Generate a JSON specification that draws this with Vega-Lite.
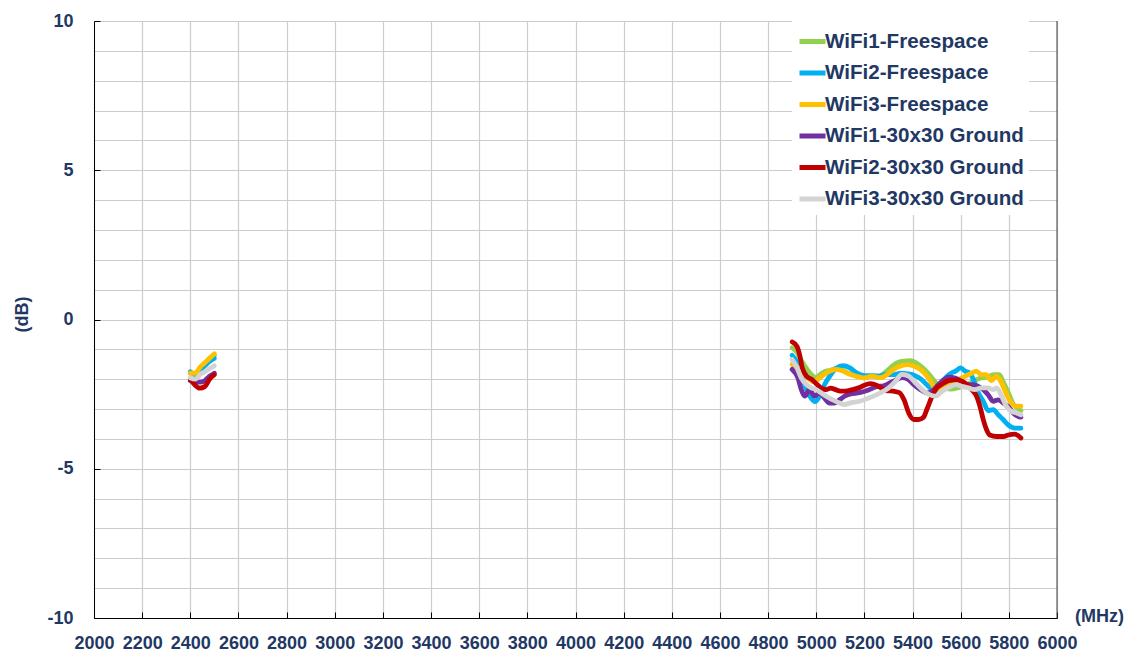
{
"$schema": "https://vega.github.io/schema/vega-lite/v6.json",
"width": 963, "height": 597,
"autosize": {"type": "none"},
"padding": {"left": 94, "top": 21, "right": 75, "bottom": 39},
"background": "#ffffff",
"config": {"view": {"stroke": null}, "font": "Liberation Sans"},
"layer": [
{
"data": {"values": [
{"series":"WiFi1-Freespace","band":"2G","MHz":2400,"dB":-1.8},{"series":"WiFi1-Freespace","band":"2G","MHz":2420,"dB":-1.85},{"series":"WiFi1-Freespace","band":"2G","MHz":2440,"dB":-1.65},{"series":"WiFi1-Freespace","band":"2G","MHz":2460,"dB":-1.5},{"series":"WiFi1-Freespace","band":"2G","MHz":2480,"dB":-1.3},{"series":"WiFi1-Freespace","band":"2G","MHz":2500,"dB":-1.2},
{"series":"WiFi1-Freespace","band":"5G","MHz":4900,"dB":-0.95},{"series":"WiFi1-Freespace","band":"5G","MHz":4920,"dB":-1.1},{"series":"WiFi1-Freespace","band":"5G","MHz":4940,"dB":-1.4},{"series":"WiFi1-Freespace","band":"5G","MHz":4960,"dB":-1.65},{"series":"WiFi1-Freespace","band":"5G","MHz":4980,"dB":-1.85},{"series":"WiFi1-Freespace","band":"5G","MHz":5000,"dB":-1.95},{"series":"WiFi1-Freespace","band":"5G","MHz":5015,"dB":-1.85},{"series":"WiFi1-Freespace","band":"5G","MHz":5035,"dB":-1.75},{"series":"WiFi1-Freespace","band":"5G","MHz":5060,"dB":-1.7},{"series":"WiFi1-Freespace","band":"5G","MHz":5085,"dB":-1.65},{"series":"WiFi1-Freespace","band":"5G","MHz":5110,"dB":-1.72},{"series":"WiFi1-Freespace","band":"5G","MHz":5140,"dB":-1.82},{"series":"WiFi1-Freespace","band":"5G","MHz":5170,"dB":-1.9},{"series":"WiFi1-Freespace","band":"5G","MHz":5200,"dB":-1.93},{"series":"WiFi1-Freespace","band":"5G","MHz":5230,"dB":-1.9},{"series":"WiFi1-Freespace","band":"5G","MHz":5260,"dB":-1.9},{"series":"WiFi1-Freespace","band":"5G","MHz":5290,"dB":-1.75},{"series":"WiFi1-Freespace","band":"5G","MHz":5310,"dB":-1.6},{"series":"WiFi1-Freespace","band":"5G","MHz":5335,"dB":-1.45},{"series":"WiFi1-Freespace","band":"5G","MHz":5360,"dB":-1.4},{"series":"WiFi1-Freespace","band":"5G","MHz":5390,"dB":-1.38},{"series":"WiFi1-Freespace","band":"5G","MHz":5415,"dB":-1.45},{"series":"WiFi1-Freespace","band":"5G","MHz":5440,"dB":-1.6},{"series":"WiFi1-Freespace","band":"5G","MHz":5465,"dB":-1.8},{"series":"WiFi1-Freespace","band":"5G","MHz":5485,"dB":-2.0},{"series":"WiFi1-Freespace","band":"5G","MHz":5500,"dB":-2.15},{"series":"WiFi1-Freespace","band":"5G","MHz":5525,"dB":-2.28},{"series":"WiFi1-Freespace","band":"5G","MHz":5560,"dB":-2.33},{"series":"WiFi1-Freespace","band":"5G","MHz":5590,"dB":-2.28},{"series":"WiFi1-Freespace","band":"5G","MHz":5620,"dB":-2.2},{"series":"WiFi1-Freespace","band":"5G","MHz":5650,"dB":-2.08},{"series":"WiFi1-Freespace","band":"5G","MHz":5680,"dB":-1.97},{"series":"WiFi1-Freespace","band":"5G","MHz":5710,"dB":-1.92},{"series":"WiFi1-Freespace","band":"5G","MHz":5740,"dB":-1.85},{"series":"WiFi1-Freespace","band":"5G","MHz":5760,"dB":-1.85},{"series":"WiFi1-Freespace","band":"5G","MHz":5780,"dB":-2.15},{"series":"WiFi1-Freespace","band":"5G","MHz":5800,"dB":-2.5},{"series":"WiFi1-Freespace","band":"5G","MHz":5820,"dB":-2.85},{"series":"WiFi1-Freespace","band":"5G","MHz":5840,"dB":-3.0},{"series":"WiFi1-Freespace","band":"5G","MHz":5850,"dB":-3.05},
{"series":"WiFi2-Freespace","band":"2G","MHz":2400,"dB":-1.75},{"series":"WiFi2-Freespace","band":"2G","MHz":2420,"dB":-1.85},{"series":"WiFi2-Freespace","band":"2G","MHz":2440,"dB":-1.7},{"series":"WiFi2-Freespace","band":"2G","MHz":2460,"dB":-1.55},{"series":"WiFi2-Freespace","band":"2G","MHz":2480,"dB":-1.4},{"series":"WiFi2-Freespace","band":"2G","MHz":2500,"dB":-1.3},
{"series":"WiFi2-Freespace","band":"5G","MHz":4900,"dB":-1.2},{"series":"WiFi2-Freespace","band":"5G","MHz":4918,"dB":-1.4},{"series":"WiFi2-Freespace","band":"5G","MHz":4938,"dB":-1.85},{"series":"WiFi2-Freespace","band":"5G","MHz":4952,"dB":-2.2},{"series":"WiFi2-Freespace","band":"5G","MHz":4965,"dB":-2.45},{"series":"WiFi2-Freespace","band":"5G","MHz":4980,"dB":-2.65},{"series":"WiFi2-Freespace","band":"5G","MHz":4995,"dB":-2.75},{"series":"WiFi2-Freespace","band":"5G","MHz":5010,"dB":-2.62},{"series":"WiFi2-Freespace","band":"5G","MHz":5025,"dB":-2.35},{"series":"WiFi2-Freespace","band":"5G","MHz":5040,"dB":-2.1},{"series":"WiFi2-Freespace","band":"5G","MHz":5060,"dB":-1.85},{"series":"WiFi2-Freespace","band":"5G","MHz":5085,"dB":-1.62},{"series":"WiFi2-Freespace","band":"5G","MHz":5110,"dB":-1.55},{"series":"WiFi2-Freespace","band":"5G","MHz":5140,"dB":-1.62},{"series":"WiFi2-Freespace","band":"5G","MHz":5166,"dB":-1.78},{"series":"WiFi2-Freespace","band":"5G","MHz":5200,"dB":-1.88},{"series":"WiFi2-Freespace","band":"5G","MHz":5230,"dB":-1.88},{"series":"WiFi2-Freespace","band":"5G","MHz":5260,"dB":-1.9},{"series":"WiFi2-Freespace","band":"5G","MHz":5285,"dB":-1.85},{"series":"WiFi2-Freespace","band":"5G","MHz":5320,"dB":-1.85},{"series":"WiFi2-Freespace","band":"5G","MHz":5350,"dB":-1.8},{"series":"WiFi2-Freespace","band":"5G","MHz":5380,"dB":-1.82},{"series":"WiFi2-Freespace","band":"5G","MHz":5410,"dB":-1.88},{"series":"WiFi2-Freespace","band":"5G","MHz":5435,"dB":-2.0},{"series":"WiFi2-Freespace","band":"5G","MHz":5455,"dB":-2.15},{"series":"WiFi2-Freespace","band":"5G","MHz":5475,"dB":-2.3},{"series":"WiFi2-Freespace","band":"5G","MHz":5490,"dB":-2.38},{"series":"WiFi2-Freespace","band":"5G","MHz":5510,"dB":-2.25},{"series":"WiFi2-Freespace","band":"5G","MHz":5530,"dB":-2.02},{"series":"WiFi2-Freespace","band":"5G","MHz":5550,"dB":-1.85},{"series":"WiFi2-Freespace","band":"5G","MHz":5580,"dB":-1.72},{"series":"WiFi2-Freespace","band":"5G","MHz":5600,"dB":-1.62},{"series":"WiFi2-Freespace","band":"5G","MHz":5618,"dB":-1.73},{"series":"WiFi2-Freespace","band":"5G","MHz":5638,"dB":-1.8},{"series":"WiFi2-Freespace","band":"5G","MHz":5652,"dB":-2.0},{"series":"WiFi2-Freespace","band":"5G","MHz":5673,"dB":-2.45},{"series":"WiFi2-Freespace","band":"5G","MHz":5694,"dB":-2.74},{"series":"WiFi2-Freespace","band":"5G","MHz":5714,"dB":-3.05},{"series":"WiFi2-Freespace","band":"5G","MHz":5735,"dB":-3.02},{"series":"WiFi2-Freespace","band":"5G","MHz":5756,"dB":-3.19},{"series":"WiFi2-Freespace","band":"5G","MHz":5777,"dB":-3.36},{"series":"WiFi2-Freespace","band":"5G","MHz":5797,"dB":-3.53},{"series":"WiFi2-Freespace","band":"5G","MHz":5825,"dB":-3.64},{"series":"WiFi2-Freespace","band":"5G","MHz":5850,"dB":-3.64},
{"series":"WiFi3-Freespace","band":"2G","MHz":2400,"dB":-1.8},{"series":"WiFi3-Freespace","band":"2G","MHz":2420,"dB":-1.8},{"series":"WiFi3-Freespace","band":"2G","MHz":2440,"dB":-1.6},{"series":"WiFi3-Freespace","band":"2G","MHz":2460,"dB":-1.45},{"series":"WiFi3-Freespace","band":"2G","MHz":2480,"dB":-1.3},{"series":"WiFi3-Freespace","band":"2G","MHz":2500,"dB":-1.15},
{"series":"WiFi3-Freespace","band":"5G","MHz":4900,"dB":-1.5},{"series":"WiFi3-Freespace","band":"5G","MHz":4925,"dB":-1.62},{"series":"WiFi3-Freespace","band":"5G","MHz":4945,"dB":-1.78},{"series":"WiFi3-Freespace","band":"5G","MHz":4965,"dB":-1.95},{"series":"WiFi3-Freespace","band":"5G","MHz":4985,"dB":-2.08},{"series":"WiFi3-Freespace","band":"5G","MHz":5000,"dB":-2.05},{"series":"WiFi3-Freespace","band":"5G","MHz":5015,"dB":-1.95},{"series":"WiFi3-Freespace","band":"5G","MHz":5040,"dB":-1.8},{"series":"WiFi3-Freespace","band":"5G","MHz":5060,"dB":-1.72},{"series":"WiFi3-Freespace","band":"5G","MHz":5085,"dB":-1.67},{"series":"WiFi3-Freespace","band":"5G","MHz":5110,"dB":-1.72},{"series":"WiFi3-Freespace","band":"5G","MHz":5135,"dB":-1.82},{"series":"WiFi3-Freespace","band":"5G","MHz":5165,"dB":-1.9},{"series":"WiFi3-Freespace","band":"5G","MHz":5200,"dB":-1.96},{"series":"WiFi3-Freespace","band":"5G","MHz":5230,"dB":-1.9},{"series":"WiFi3-Freespace","band":"5G","MHz":5265,"dB":-1.95},{"series":"WiFi3-Freespace","band":"5G","MHz":5295,"dB":-1.84},{"series":"WiFi3-Freespace","band":"5G","MHz":5320,"dB":-1.68},{"series":"WiFi3-Freespace","band":"5G","MHz":5350,"dB":-1.56},{"series":"WiFi3-Freespace","band":"5G","MHz":5378,"dB":-1.51},{"series":"WiFi3-Freespace","band":"5G","MHz":5405,"dB":-1.56},{"series":"WiFi3-Freespace","band":"5G","MHz":5433,"dB":-1.68},{"series":"WiFi3-Freespace","band":"5G","MHz":5455,"dB":-1.85},{"series":"WiFi3-Freespace","band":"5G","MHz":5475,"dB":-2.07},{"series":"WiFi3-Freespace","band":"5G","MHz":5495,"dB":-2.33},{"series":"WiFi3-Freespace","band":"5G","MHz":5515,"dB":-2.3},{"series":"WiFi3-Freespace","band":"5G","MHz":5537,"dB":-2.18},{"series":"WiFi3-Freespace","band":"5G","MHz":5565,"dB":-2.07},{"series":"WiFi3-Freespace","band":"5G","MHz":5590,"dB":-2.02},{"series":"WiFi3-Freespace","band":"5G","MHz":5620,"dB":-1.9},{"series":"WiFi3-Freespace","band":"5G","MHz":5645,"dB":-1.8},{"series":"WiFi3-Freespace","band":"5G","MHz":5665,"dB":-1.73},{"series":"WiFi3-Freespace","band":"5G","MHz":5685,"dB":-1.85},{"series":"WiFi3-Freespace","band":"5G","MHz":5705,"dB":-1.85},{"series":"WiFi3-Freespace","band":"5G","MHz":5728,"dB":-2.05},{"series":"WiFi3-Freespace","band":"5G","MHz":5748,"dB":-1.9},{"series":"WiFi3-Freespace","band":"5G","MHz":5768,"dB":-2.1},{"series":"WiFi3-Freespace","band":"5G","MHz":5790,"dB":-2.5},{"series":"WiFi3-Freespace","band":"5G","MHz":5810,"dB":-2.8},{"series":"WiFi3-Freespace","band":"5G","MHz":5830,"dB":-2.9},{"series":"WiFi3-Freespace","band":"5G","MHz":5850,"dB":-2.9},
{"series":"WiFi1-30x30 Ground","band":"2G","MHz":2400,"dB":-2.05},{"series":"WiFi1-30x30 Ground","band":"2G","MHz":2420,"dB":-2.1},{"series":"WiFi1-30x30 Ground","band":"2G","MHz":2440,"dB":-2.1},{"series":"WiFi1-30x30 Ground","band":"2G","MHz":2460,"dB":-2.05},{"series":"WiFi1-30x30 Ground","band":"2G","MHz":2480,"dB":-1.9},{"series":"WiFi1-30x30 Ground","band":"2G","MHz":2500,"dB":-1.8},
{"series":"WiFi1-30x30 Ground","band":"5G","MHz":4900,"dB":-1.67},{"series":"WiFi1-30x30 Ground","band":"5G","MHz":4924,"dB":-1.96},{"series":"WiFi1-30x30 Ground","band":"5G","MHz":4938,"dB":-2.35},{"series":"WiFi1-30x30 Ground","band":"5G","MHz":4952,"dB":-2.57},{"series":"WiFi1-30x30 Ground","band":"5G","MHz":4972,"dB":-2.35},{"series":"WiFi1-30x30 Ground","band":"5G","MHz":4993,"dB":-2.57},{"series":"WiFi1-30x30 Ground","band":"5G","MHz":5014,"dB":-2.46},{"series":"WiFi1-30x30 Ground","band":"5G","MHz":5034,"dB":-2.63},{"series":"WiFi1-30x30 Ground","band":"5G","MHz":5055,"dB":-2.8},{"series":"WiFi1-30x30 Ground","band":"5G","MHz":5076,"dB":-2.8},{"series":"WiFi1-30x30 Ground","band":"5G","MHz":5097,"dB":-2.69},{"series":"WiFi1-30x30 Ground","band":"5G","MHz":5117,"dB":-2.57},{"series":"WiFi1-30x30 Ground","band":"5G","MHz":5140,"dB":-2.5},{"series":"WiFi1-30x30 Ground","band":"5G","MHz":5180,"dB":-2.45},{"series":"WiFi1-30x30 Ground","band":"5G","MHz":5220,"dB":-2.35},{"series":"WiFi1-30x30 Ground","band":"5G","MHz":5250,"dB":-2.25},{"series":"WiFi1-30x30 Ground","band":"5G","MHz":5280,"dB":-2.22},{"series":"WiFi1-30x30 Ground","band":"5G","MHz":5300,"dB":-2.15},{"series":"WiFi1-30x30 Ground","band":"5G","MHz":5325,"dB":-2.05},{"series":"WiFi1-30x30 Ground","band":"5G","MHz":5355,"dB":-1.95},{"series":"WiFi1-30x30 Ground","band":"5G","MHz":5380,"dB":-2.0},{"series":"WiFi1-30x30 Ground","band":"5G","MHz":5405,"dB":-2.18},{"series":"WiFi1-30x30 Ground","band":"5G","MHz":5433,"dB":-2.35},{"series":"WiFi1-30x30 Ground","band":"5G","MHz":5460,"dB":-2.46},{"series":"WiFi1-30x30 Ground","band":"5G","MHz":5480,"dB":-2.4},{"series":"WiFi1-30x30 Ground","band":"5G","MHz":5502,"dB":-2.23},{"series":"WiFi1-30x30 Ground","band":"5G","MHz":5522,"dB":-2.07},{"series":"WiFi1-30x30 Ground","band":"5G","MHz":5550,"dB":-1.93},{"series":"WiFi1-30x30 Ground","band":"5G","MHz":5577,"dB":-1.96},{"series":"WiFi1-30x30 Ground","band":"5G","MHz":5604,"dB":-2.07},{"series":"WiFi1-30x30 Ground","band":"5G","MHz":5632,"dB":-2.18},{"series":"WiFi1-30x30 Ground","band":"5G","MHz":5652,"dB":-2.18},{"series":"WiFi1-30x30 Ground","band":"5G","MHz":5673,"dB":-2.24},{"series":"WiFi1-30x30 Ground","band":"5G","MHz":5694,"dB":-2.35},{"series":"WiFi1-30x30 Ground","band":"5G","MHz":5714,"dB":-2.52},{"series":"WiFi1-30x30 Ground","band":"5G","MHz":5735,"dB":-2.74},{"series":"WiFi1-30x30 Ground","band":"5G","MHz":5756,"dB":-2.69},{"series":"WiFi1-30x30 Ground","band":"5G","MHz":5777,"dB":-2.8},{"series":"WiFi1-30x30 Ground","band":"5G","MHz":5797,"dB":-2.91},{"series":"WiFi1-30x30 Ground","band":"5G","MHz":5818,"dB":-3.13},{"series":"WiFi1-30x30 Ground","band":"5G","MHz":5839,"dB":-3.25},{"series":"WiFi1-30x30 Ground","band":"5G","MHz":5850,"dB":-3.27},
{"series":"WiFi2-30x30 Ground","band":"2G","MHz":2400,"dB":-2.0},{"series":"WiFi2-30x30 Ground","band":"2G","MHz":2420,"dB":-2.2},{"series":"WiFi2-30x30 Ground","band":"2G","MHz":2440,"dB":-2.3},{"series":"WiFi2-30x30 Ground","band":"2G","MHz":2460,"dB":-2.25},{"series":"WiFi2-30x30 Ground","band":"2G","MHz":2480,"dB":-2.0},{"series":"WiFi2-30x30 Ground","band":"2G","MHz":2500,"dB":-1.85},
{"series":"WiFi2-30x30 Ground","band":"5G","MHz":4900,"dB":-0.75},{"series":"WiFi2-30x30 Ground","band":"5G","MHz":4920,"dB":-0.9},{"series":"WiFi2-30x30 Ground","band":"5G","MHz":4930,"dB":-1.15},{"series":"WiFi2-30x30 Ground","band":"5G","MHz":4942,"dB":-1.62},{"series":"WiFi2-30x30 Ground","band":"5G","MHz":4960,"dB":-1.9},{"series":"WiFi2-30x30 Ground","band":"5G","MHz":4980,"dB":-2.0},{"series":"WiFi2-30x30 Ground","band":"5G","MHz":5000,"dB":-2.15},{"series":"WiFi2-30x30 Ground","band":"5G","MHz":5020,"dB":-2.3},{"series":"WiFi2-30x30 Ground","band":"5G","MHz":5040,"dB":-2.35},{"series":"WiFi2-30x30 Ground","band":"5G","MHz":5060,"dB":-2.3},{"series":"WiFi2-30x30 Ground","band":"5G","MHz":5080,"dB":-2.35},{"series":"WiFi2-30x30 Ground","band":"5G","MHz":5100,"dB":-2.4},{"series":"WiFi2-30x30 Ground","band":"5G","MHz":5120,"dB":-2.4},{"series":"WiFi2-30x30 Ground","band":"5G","MHz":5150,"dB":-2.35},{"series":"WiFi2-30x30 Ground","band":"5G","MHz":5180,"dB":-2.28},{"series":"WiFi2-30x30 Ground","band":"5G","MHz":5200,"dB":-2.2},{"series":"WiFi2-30x30 Ground","band":"5G","MHz":5225,"dB":-2.15},{"series":"WiFi2-30x30 Ground","band":"5G","MHz":5250,"dB":-2.2},{"series":"WiFi2-30x30 Ground","band":"5G","MHz":5270,"dB":-2.3},{"series":"WiFi2-30x30 Ground","band":"5G","MHz":5290,"dB":-2.38},{"series":"WiFi2-30x30 Ground","band":"5G","MHz":5320,"dB":-2.4},{"series":"WiFi2-30x30 Ground","band":"5G","MHz":5345,"dB":-2.45},{"series":"WiFi2-30x30 Ground","band":"5G","MHz":5365,"dB":-2.7},{"series":"WiFi2-30x30 Ground","band":"5G","MHz":5385,"dB":-3.15},{"series":"WiFi2-30x30 Ground","band":"5G","MHz":5405,"dB":-3.35},{"series":"WiFi2-30x30 Ground","band":"5G","MHz":5425,"dB":-3.35},{"series":"WiFi2-30x30 Ground","band":"5G","MHz":5445,"dB":-3.28},{"series":"WiFi2-30x30 Ground","band":"5G","MHz":5460,"dB":-3.0},{"series":"WiFi2-30x30 Ground","band":"5G","MHz":5480,"dB":-2.6},{"series":"WiFi2-30x30 Ground","band":"5G","MHz":5500,"dB":-2.3},{"series":"WiFi2-30x30 Ground","band":"5G","MHz":5525,"dB":-2.15},{"series":"WiFi2-30x30 Ground","band":"5G","MHz":5550,"dB":-2.05},{"series":"WiFi2-30x30 Ground","band":"5G","MHz":5580,"dB":-2.02},{"series":"WiFi2-30x30 Ground","band":"5G","MHz":5604,"dB":-2.07},{"series":"WiFi2-30x30 Ground","band":"5G","MHz":5625,"dB":-2.18},{"series":"WiFi2-30x30 Ground","band":"5G","MHz":5646,"dB":-2.35},{"series":"WiFi2-30x30 Ground","band":"5G","MHz":5666,"dB":-2.57},{"series":"WiFi2-30x30 Ground","band":"5G","MHz":5680,"dB":-2.91},{"series":"WiFi2-30x30 Ground","band":"5G","MHz":5694,"dB":-3.36},{"series":"WiFi2-30x30 Ground","band":"5G","MHz":5708,"dB":-3.7},{"series":"WiFi2-30x30 Ground","band":"5G","MHz":5721,"dB":-3.87},{"series":"WiFi2-30x30 Ground","band":"5G","MHz":5749,"dB":-3.92},{"series":"WiFi2-30x30 Ground","band":"5G","MHz":5777,"dB":-3.92},{"series":"WiFi2-30x30 Ground","band":"5G","MHz":5797,"dB":-3.87},{"series":"WiFi2-30x30 Ground","band":"5G","MHz":5825,"dB":-3.84},{"series":"WiFi2-30x30 Ground","band":"5G","MHz":5840,"dB":-3.9},{"series":"WiFi2-30x30 Ground","band":"5G","MHz":5850,"dB":-3.97},
{"series":"WiFi3-30x30 Ground","band":"2G","MHz":2400,"dB":-1.95},{"series":"WiFi3-30x30 Ground","band":"2G","MHz":2420,"dB":-2.0},{"series":"WiFi3-30x30 Ground","band":"2G","MHz":2440,"dB":-1.85},{"series":"WiFi3-30x30 Ground","band":"2G","MHz":2460,"dB":-1.75},{"series":"WiFi3-30x30 Ground","band":"2G","MHz":2480,"dB":-1.65},{"series":"WiFi3-30x30 Ground","band":"2G","MHz":2500,"dB":-1.55},
{"series":"WiFi3-30x30 Ground","band":"5G","MHz":4900,"dB":-1.34},{"series":"WiFi3-30x30 Ground","band":"5G","MHz":4917,"dB":-1.56},{"series":"WiFi3-30x30 Ground","band":"5G","MHz":4938,"dB":-1.96},{"series":"WiFi3-30x30 Ground","band":"5G","MHz":4959,"dB":-2.18},{"series":"WiFi3-30x30 Ground","band":"5G","MHz":4979,"dB":-2.29},{"series":"WiFi3-30x30 Ground","band":"5G","MHz":5000,"dB":-2.35},{"series":"WiFi3-30x30 Ground","band":"5G","MHz":5021,"dB":-2.46},{"series":"WiFi3-30x30 Ground","band":"5G","MHz":5041,"dB":-2.57},{"series":"WiFi3-30x30 Ground","band":"5G","MHz":5069,"dB":-2.69},{"series":"WiFi3-30x30 Ground","band":"5G","MHz":5097,"dB":-2.8},{"series":"WiFi3-30x30 Ground","band":"5G","MHz":5117,"dB":-2.85},{"series":"WiFi3-30x30 Ground","band":"5G","MHz":5138,"dB":-2.8},{"series":"WiFi3-30x30 Ground","band":"5G","MHz":5179,"dB":-2.74},{"series":"WiFi3-30x30 Ground","band":"5G","MHz":5228,"dB":-2.6},{"series":"WiFi3-30x30 Ground","band":"5G","MHz":5266,"dB":-2.46},{"series":"WiFi3-30x30 Ground","band":"5G","MHz":5301,"dB":-2.29},{"series":"WiFi3-30x30 Ground","band":"5G","MHz":5329,"dB":-2.07},{"series":"WiFi3-30x30 Ground","band":"5G","MHz":5356,"dB":-1.84},{"series":"WiFi3-30x30 Ground","band":"5G","MHz":5384,"dB":-1.9},{"series":"WiFi3-30x30 Ground","band":"5G","MHz":5412,"dB":-2.12},{"series":"WiFi3-30x30 Ground","band":"5G","MHz":5440,"dB":-2.35},{"series":"WiFi3-30x30 Ground","band":"5G","MHz":5468,"dB":-2.51},{"series":"WiFi3-30x30 Ground","band":"5G","MHz":5495,"dB":-2.57},{"series":"WiFi3-30x30 Ground","band":"5G","MHz":5523,"dB":-2.4},{"series":"WiFi3-30x30 Ground","band":"5G","MHz":5557,"dB":-2.25},{"series":"WiFi3-30x30 Ground","band":"5G","MHz":5580,"dB":-2.18},{"series":"WiFi3-30x30 Ground","band":"5G","MHz":5604,"dB":-2.24},{"series":"WiFi3-30x30 Ground","band":"5G","MHz":5632,"dB":-2.29},{"series":"WiFi3-30x30 Ground","band":"5G","MHz":5659,"dB":-2.35},{"series":"WiFi3-30x30 Ground","band":"5G","MHz":5687,"dB":-2.29},{"series":"WiFi3-30x30 Ground","band":"5G","MHz":5714,"dB":-2.29},{"series":"WiFi3-30x30 Ground","band":"5G","MHz":5735,"dB":-2.35},{"series":"WiFi3-30x30 Ground","band":"5G","MHz":5749,"dB":-2.29},{"series":"WiFi3-30x30 Ground","band":"5G","MHz":5770,"dB":-2.57},{"series":"WiFi3-30x30 Ground","band":"5G","MHz":5790,"dB":-2.91},{"series":"WiFi3-30x30 Ground","band":"5G","MHz":5811,"dB":-3.08},{"series":"WiFi3-30x30 Ground","band":"5G","MHz":5832,"dB":-3.13},{"series":"WiFi3-30x30 Ground","band":"5G","MHz":5850,"dB":-3.19}
]},
"mark": {"type": "line", "strokeWidth": 4.8, "interpolate": "monotone", "strokeCap": "round", "strokeJoin": "round"},
"encoding": {
"x": {"field": "MHz", "type": "quantitative", "scale": {"domain": [2000, 6000], "nice": false, "zero": false},
 "axis": {"values": [2000,2200,2400,2600,2800,3000,3200,3400,3600,3800,4000,4200,4400,4600,4800,5000,5200,5400,5600,5800,6000],
  "format": "d", "grid": true, "gridColor": "#cccccc", "gridWidth": 1.2, "domainColor": "#000000", "domainWidth": 1,
  "tickColor": "#000000", "tickSize": -6, "tickWidth": 1, "labelPadding": 22, "labelFont": "Liberation Sans", "labelFontSize": 18, "labelFontWeight": "bold",
  "labelColor": "#1f3864", "labelFlush": false, "labelOverlap": false, "labelBaseline": "top",
  "title": "(MHz)", "titleFont": "Liberation Sans", "titleFontSize": 18, "titleFontWeight": "bold", "titleColor": "#1f3864",
  "titleX": 1005, "titleY": -2, "titleAlign": "center", "titleBaseline": "middle", "titleAngle": 0}},
"y": {"field": "dB", "type": "quantitative", "scale": {"domain": [-10, 10], "nice": false, "zero": false},
 "axis": {"values": [-10,-9,-8,-7,-6,-5,-4,-3,-2,-1,0,1,2,3,4,5,6,7,8,9,10],
  "labelExpr": "datum.value % 5 === 0 ? toString(datum.value) : ''",
  "grid": true, "gridColor": "#cccccc", "gridWidth": 1.2, "domainColor": "#000000", "domainWidth": 1,
  "tickColor": "#000000", "tickSize": -6, "tickWidth": 1,
  "tickOpacity": {"condition": {"test": "datum.value % 5 === 0", "value": 1}, "value": 0},
  "labelPadding": 27, "labelFont": "Liberation Sans", "labelFontSize": 18, "labelFontWeight": "bold", "labelColor": "#1f3864", "labelFlush": false, "labelOverlap": false,
  "title": "(dB)", "titleFont": "Liberation Sans", "titleFontSize": 18, "titleFontWeight": "bold", "titleColor": "#1f3864",
  "titleX": -72, "titleY": 293, "titleAlign": "center", "titleBaseline": "middle", "titleAngle": 270}},
"color": {"field": "series", "type": "nominal",
 "scale": {"domain": ["WiFi1-Freespace","WiFi2-Freespace","WiFi3-Freespace","WiFi1-30x30 Ground","WiFi2-30x30 Ground","WiFi3-30x30 Ground"],
  "range": ["#92d050","#00b0f0","#ffc000","#7030a0","#c00000","#d3d3d3"]},
 "legend": {"title": null, "orient": "none", "legendX": 698, "legendY": 0, "fillColor": "#ffffff", "padding": 5,
  "symbolType": "stroke", "symbolStrokeWidth": 5, "symbolSize": 676, "labelFont": "Liberation Sans", "labelFontSize": 20.6, "labelFontWeight": "bold",
  "labelColor": "#1f3864", "labelOffset": -3, "rowPadding": 4.5, "labelLimit": 400}},
"detail": {"field": "band", "type": "nominal"}
}
},
{
"data": {"values": [{}]},
"mark": {"type": "rule", "color": "#404040", "strokeWidth": 1},
"encoding": {"x": {"datum": 6000}}
}
]
}
